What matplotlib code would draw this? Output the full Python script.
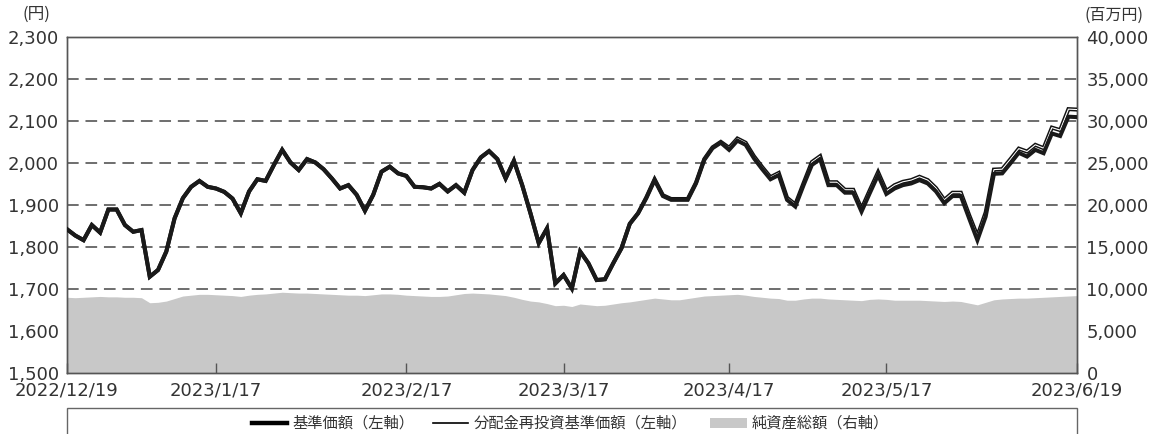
import matplotlib
matplotlib.use("Agg")
import matplotlib.pyplot as plt
from matplotlib.lines import Line2D
from matplotlib.patches import Rectangle
import numpy as np

plt.rcParams['font.family'] = ['DejaVu Sans', 'Noto Sans CJK JP']
JP = ['Noto Sans CJK JP', 'DejaVu Sans']

# x tick positions are business-day indices (0 = 2022/12/19)
tick_idx = [0, 18, 41, 60, 80, 99, 122]
tick_labels = ["2022/12/19", "2023/1/17", "2023/2/17", "2023/3/17",
               "2023/4/17", "2023/5/17", "2023/6/19"]

# 基準価額 (円)
base_nav = [
    1843, 1828, 1817, 1853, 1835, 1890, 1890, 1853, 1837, 1841,
    1730, 1746, 1790, 1869, 1917, 1944, 1958, 1944, 1940, 1932,
    1916, 1881, 1933, 1962, 1958, 1996, 2032, 2002, 1984, 2010,
    2002, 1986, 1964, 1940, 1948, 1925, 1887, 1925, 1980, 1992,
    1976, 1970, 1944, 1943, 1940, 1951, 1933, 1948, 1930, 1984,
    2014, 2029, 2010, 1964, 2006, 1948, 1881, 1810, 1845, 1714,
    1734, 1702, 1790, 1762, 1722, 1724, 1762, 1798, 1856, 1881,
    1917, 1960, 1922, 1913, 1913, 1913, 1952, 2008, 2036, 2049,
    2032, 2054, 2044, 2012, 1986, 1962, 1972, 1913, 1897, 1948,
    1996, 2010, 1948, 1948, 1930, 1930, 1885, 1929, 1972, 1927,
    1940, 1948, 1952, 1960, 1952, 1933, 1905, 1922, 1922, 1869,
    1817, 1873, 1975, 1976, 2000, 2025, 2016, 2032, 2024, 2071,
    2065, 2111, 2110,
]

# 分配金再投資基準価額 (円)
reinv_nav = [
    1843, 1828, 1817, 1853, 1835, 1890, 1890, 1853, 1837, 1841,
    1730, 1746, 1790, 1869, 1917, 1944, 1958, 1944, 1940, 1932,
    1916, 1881, 1933, 1962, 1958, 1996, 2032, 2002, 1984, 2010,
    2002, 1986, 1964, 1940, 1948, 1925, 1887, 1925, 1980, 1992,
    1976, 1970, 1944, 1943, 1940, 1951, 1933, 1948, 1930, 1984,
    2014, 2029, 2010, 1964, 2006, 1948, 1881, 1810, 1845, 1714,
    1734, 1702, 1790, 1762, 1722, 1724, 1762, 1798, 1856, 1881,
    1919, 1962, 1924, 1915, 1915, 1915, 1954, 2010, 2038, 2051,
    2037, 2059, 2049, 2017, 1991, 1967, 1977, 1918, 1902, 1953,
    2003, 2017, 1955, 1955, 1937, 1937, 1892, 1936, 1979, 1934,
    1948, 1956, 1960, 1968, 1960, 1941, 1913, 1930, 1930, 1877,
    1827, 1883, 1985, 1986, 2010, 2035, 2028, 2044, 2036, 2085,
    2079, 2129, 2128,
]

# 純資産総額 (百万円)
total_assets = [
    9050, 9000, 9050, 9100, 9150, 9100, 9100, 9050, 9050, 9000,
    8400, 8450, 8600, 8900, 9200, 9300, 9400, 9400, 9350, 9300,
    9250, 9150, 9300, 9400, 9450, 9550, 9650, 9600, 9550, 9550,
    9500, 9450, 9400, 9350, 9300, 9300, 9250, 9350, 9450, 9450,
    9400, 9300, 9250, 9200, 9150, 9150, 9200, 9350, 9500, 9550,
    9500, 9450, 9350, 9250, 9050, 8800, 8600, 8500, 8300, 8050,
    8100, 7950, 8250, 8150, 8050, 8100, 8250, 8400, 8500, 8650,
    8800, 8950, 8850, 8750, 8750, 8900, 9050, 9200, 9250, 9300,
    9350, 9400, 9300, 9150, 9050, 8950, 8900, 8700, 8700, 8850,
    8950, 8950, 8850, 8800, 8750, 8700, 8650, 8800, 8850, 8800,
    8700, 8700, 8700, 8700, 8650, 8600, 8550, 8600, 8550, 8350,
    8150, 8450, 8750, 8850, 8900, 8950, 8950, 9000, 9050, 9100,
    9150, 9200, 9250,
]

x = np.arange(len(base_nav))
W, H = 1158, 434
txt = '#333333'

fig = plt.figure(figsize=(W / 100, H / 100), dpi=100)
ax2 = fig.add_axes([67 / W, 1 - 373.3 / H, (1076.7 - 67) / W, 336 / H])
ax = ax2.twinx()   # price axis drawn on top of the area
ax.yaxis.tick_left()

# right axis: net assets area with dashed grid underneath
ax2.set_xlim(0, len(base_nav) - 1)
ax2.set_ylim(0, 40000)
ax2.yaxis.tick_right()
ax2.set_yticks(np.arange(0, 40001, 5000))
ax2.set_yticklabels([f"{v:,}" for v in range(0, 40001, 5000)])
for v in range(10000, 40000, 5000):
    ax2.axhline(v, color='#6e6e6e', lw=1.4, dashes=(6, 3.5), zorder=0)
ax2.fill_between(x, total_assets, 0, color='#c8c8c8', lw=0, zorder=1)

# left axis: price lines
ax.set_ylim(1500, 2300)
ax.set_yticks(np.arange(1500, 2301, 100))
ax.set_yticklabels([f"{v:,}" for v in range(1500, 2301, 100)])
ax.plot(x, reinv_nav, color='#111111', lw=2.9, solid_joinstyle='miter', zorder=3)
ax.plot(x, reinv_nav, color='white', lw=0.8, solid_joinstyle='miter', zorder=3.1)
ax.plot(x, base_nav, color='#1a1a1a', lw=2.9, solid_joinstyle='miter', zorder=4)

ax2.set_xticks(tick_idx)
ax2.set_xticklabels(tick_labels)

for a in (ax, ax2):
    for s in a.spines.values():
        s.set_color('#555555')
        s.set_linewidth(1.0)
ax.tick_params(axis='y', length=0, pad=6, labelsize=13, labelcolor=txt)
ax2.tick_params(axis='y', length=0, pad=7, labelsize=13, labelcolor=txt)
ax2.tick_params(axis='x', direction='in', length=7, width=1, color='#555555',
                pad=6, labelsize=13, labelcolor=txt)

fig.text(36 / W, 1 - 14 / H, "(円)", ha='center', va='center', fontsize=12,
         color=txt, family=JP)
fig.text(1114 / W, 1 - 15 / H, "(百万円)", ha='center', va='center', fontsize=11.5,
         color=txt, family=JP)

# legend box (runs off the bottom of the image)
fig.patches.append(Rectangle((67 / W, -0.1), (1076.7 - 67) / W, 0.1 + 1 - 408 / H,
                             transform=fig.transFigure, fill=False,
                             edgecolor='#666666', lw=1.0))
ly = 1 - 423 / H
fig.add_artist(Line2D([252 / W, 287 / W], [ly, ly], color='black', lw=3.2,
                      transform=fig.transFigure))
fig.text(292 / W, ly, "基準価額（左軸）", ha='left', va='center', fontsize=11,
         color=txt, family=JP)
fig.add_artist(Line2D([433 / W, 468 / W], [ly, ly], color='black', lw=1.2,
                      transform=fig.transFigure))
fig.text(474 / W, ly, "分配金再投資基準価額（左軸）", ha='left', va='center', fontsize=11,
         color=txt, family=JP)
fig.patches.append(Rectangle((710 / W, 1 - 428 / H), 37 / W, 10 / H,
                             transform=fig.transFigure, color='#c8c8c8', lw=0))
fig.text(752 / W, ly, "純資産総額（右軸）", ha='left', va='center', fontsize=11,
         color=txt, family=JP)

fig.savefig("out.png", dpi=100)
